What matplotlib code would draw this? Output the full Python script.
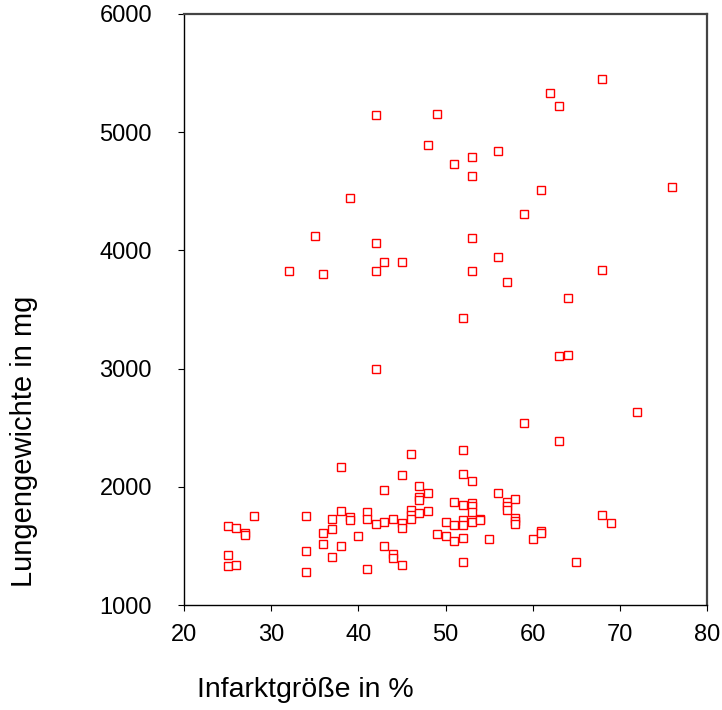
import matplotlib
matplotlib.use("Agg")
import matplotlib.pyplot as plt

plt.rcParams["font.family"] = ["Liberation Sans", "DejaVu Sans"]

# infarct size (%) and lung weight (mg) per animal
infarct = [
    68, 62, 63, 42, 49, 48, 56, 53, 51, 53, 61, 76, 39, 59, 35, 42, 53, 56,
    32, 36, 42, 43, 45, 53, 68, 57, 64, 52, 63, 64, 42, 72, 59, 63, 52,
    46, 38, 45, 47, 48, 43, 47, 47, 28, 34, 38, 39, 39, 37, 41, 41, 43, 42,
    44, 45, 45, 46, 46, 46, 47, 48, 50, 50, 49, 25, 26, 27, 27, 25, 25, 26,
    34, 34, 36, 36, 37, 37, 38, 40, 41, 43, 44, 44, 45,
    52, 53, 56, 51, 52, 53, 53, 53, 57, 57, 57, 58, 51, 52, 52, 53, 54, 54,
    58, 58, 58, 51, 52, 55, 60, 61, 61, 68, 69, 52, 65,
]
lung_weight = [
    5450, 5330, 5220, 5145, 5155, 4890, 4840, 4790, 4730, 4630, 4510, 4535,
    4445, 4310, 4125, 4065, 4105, 3945, 3825, 3800, 3825, 3900, 3900, 3825,
    3835, 3735, 3600, 3430, 3105, 3115, 3000, 2635, 2540, 2390, 2310,
    2275, 2165, 2100, 2010, 1950, 1970, 1910, 1885, 1755, 1755, 1795, 1745,
    1720, 1725, 1790, 1725, 1705, 1685, 1725, 1690, 1650, 1800, 1760, 1730,
    1775, 1795, 1700, 1580, 1600, 1665, 1655, 1610, 1590, 1420, 1330, 1340,
    1460, 1275, 1610, 1520, 1645, 1410, 1500, 1580, 1305, 1500, 1435, 1395,
    1340,
    2110, 2050, 1950, 1870, 1845, 1860, 1840, 1790, 1875, 1840, 1805, 1900,
    1675, 1715, 1680, 1705, 1725, 1720, 1735, 1710, 1685, 1540, 1570, 1560,
    1560, 1625, 1610, 1765, 1695, 1360, 1360,
]

x_ticks = [20, 30, 40, 50, 60, 70, 80]
y_ticks = [1000, 2000, 3000, 4000, 5000, 6000]

fig = plt.figure(figsize=(7.22, 7.10), dpi=100)
ax = fig.add_axes([184 / 722, 1 - 605 / 710, (707 - 184) / 722, (605 - 14) / 710])

ax.plot(infarct, lung_weight, linestyle="none", marker="s", markersize=5.6,
        markerfacecolor="white", markeredgecolor="red", markeredgewidth=1.0)

ax.set_xlim(20, 80)
ax.set_ylim(1000, 6000)
ax.set_xticks(x_ticks)
ax.set_yticks(y_ticks)
ax.tick_params(axis="y", direction="out", length=4.5, width=0.8,
               labelsize=17, pad=18.5)
ax.tick_params(axis="x", direction="out", length=4.5, width=0.8,
               labelsize=17, pad=9)

for side in ("left", "bottom"):
    ax.spines[side].set_color("black")
    ax.spines[side].set_linewidth(1.0)
for side in ("top", "right"):
    ax.spines[side].set_color("#444444")
    ax.spines[side].set_linewidth(1.6)

fig.text(305 / 722, 1 - 690 / 710, "Infarktgröße in %", fontsize=20.5,
         ha="center", va="center")
fig.text(24 / 722, 1 - 441 / 710, "Lungengewichte in mg", fontsize=21,
         ha="center", va="center", rotation=90)

fig.savefig("out.png", dpi=100)
